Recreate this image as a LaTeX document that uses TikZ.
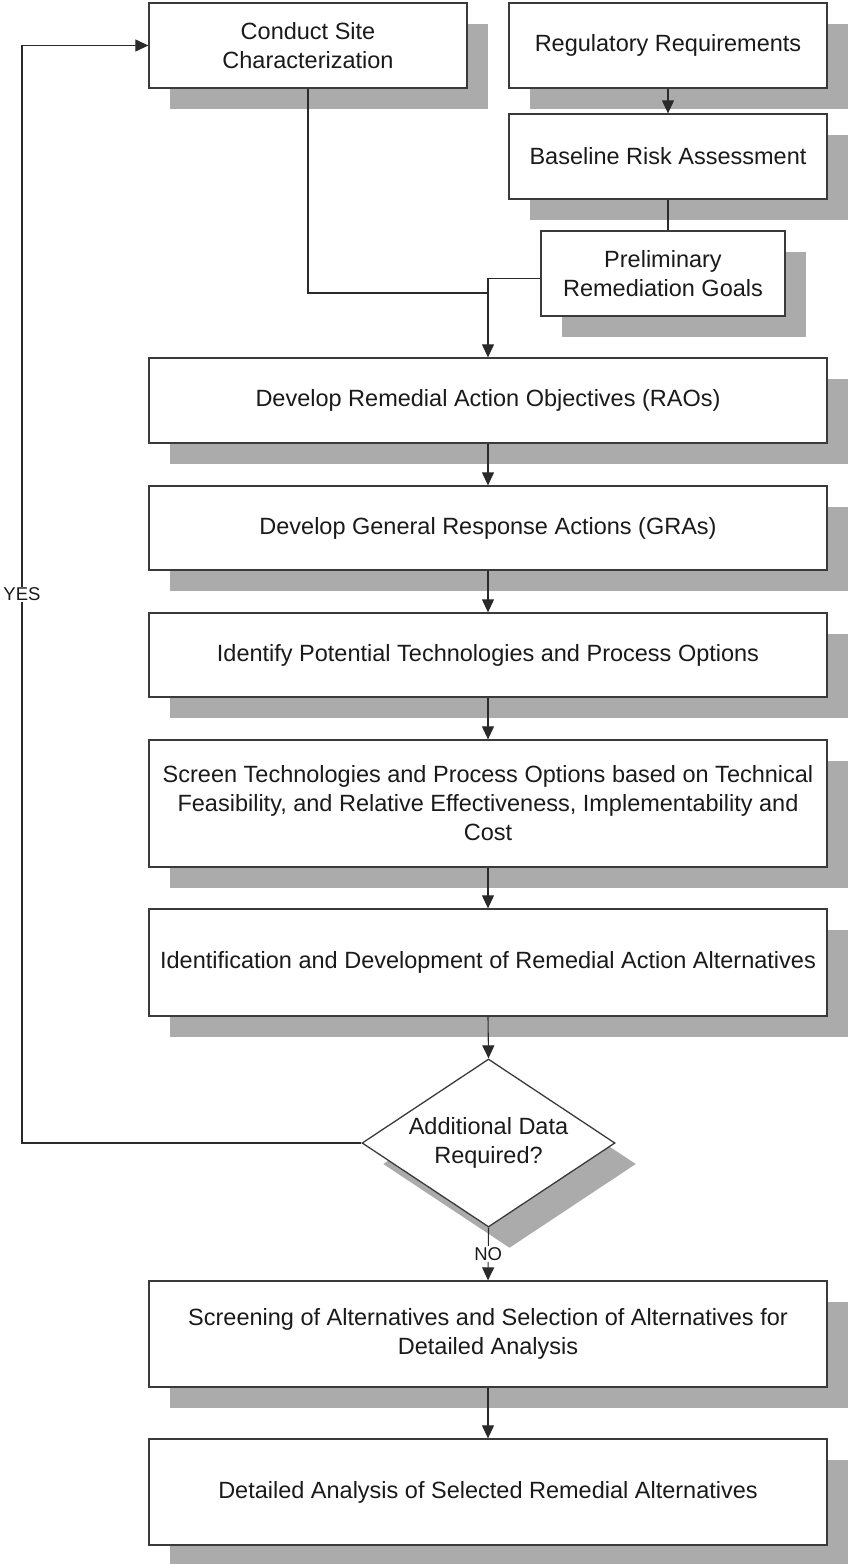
\documentclass[tikz,border=0pt]{standalone}
\usepackage{fontspec}
\setmainfont{Liberation Sans}
\usetikzlibrary{arrows.meta,shapes.geometric,shadows,calc}
\definecolor{boxline}{HTML}{3A3A3A}
\definecolor{linecol}{HTML}{2A2A2A}
\definecolor{shadowgray}{HTML}{ABABAB}
\definecolor{txt}{HTML}{1A1A1A}
\begin{document}
\begin{tikzpicture}[x=1pt,y=-1pt,
  shad/.style={drop shadow={shadow xshift=21pt,shadow yshift=-21pt,fill=shadowgray,opacity=1}},
  box/.style={draw=boxline,line width=1.3pt,fill=white,shad,inner sep=0pt,align=center,
    text=txt,font=\fontsize{23.5}{29}\selectfont},
  smallbox/.style={box,minimum width=318pt,minimum height=85pt},
  widebox/.style={box,minimum width=678pt},
  decision/.style={box,diamond,aspect=1.506,minimum width=253pt,minimum height=168pt},
  conn/.style={draw=linecol,line width=1.1pt},
  arr/.style={conn,-{Triangle[length=13pt,width=12pt]}},
  lbl/.style={fill=white,inner sep=1pt,text=txt,font=\fontsize{18.5}{22}\selectfont}]
\useasboundingbox (0,0) rectangle (848,1564);

\node[smallbox] (CSC) at (308,45.5) {Conduct Site\\Characterization};
\node[smallbox] (REG) at (668,45.5) {Regulatory Requirements};
\node[smallbox] (BRA) at (668,156.5) {Baseline Risk Assessment};
\node[box,minimum width=244pt,minimum height=85pt] (PRG) at (663,273.5) {Preliminary\\Remediation Goals};
\node[widebox,minimum height=85pt] (RAO) at (488,400.5) {Develop Remedial Action Objectives (RAOs)};
\node[widebox,minimum height=84pt] (GRA) at (488,528) {Develop General Response Actions (GRAs)};
\node[widebox,minimum height=84pt] (ITP) at (488,655) {Identify Potential Technologies and Process Options};
\node[widebox,minimum height=127pt] (SCR) at (488,803.5) {Screen Technologies and Process Options based on Technical\\Feasibility, and Relative Effectiveness, Implementability and\\Cost};
\node[widebox,minimum height=107pt] (IDA) at (488,962.5) {Identification and Development of Remedial Action Alternatives};
\node[decision] (DEC) at (488.5,1143) {Additional Data\\Required?};
\node[widebox,minimum height=106pt] (SEL) at (488,1334) {Screening of Alternatives and Selection of Alternatives for\\Detailed Analysis};
\node[widebox,minimum height=106pt] (DET) at (488,1492) {Detailed Analysis of Selected Remedial Alternatives};

\coordinate (J) at (488,293);
\coordinate (YX) at (22,0);

\draw[arr] (REG.south) -- (BRA.north);
\draw[conn] (BRA.south) -- (BRA.south |- PRG.north);
\draw[conn] (CSC.south) |- (J);
\draw[arr] ([yshift=-5pt]PRG.west) -| (RAO.north);
\draw[arr] (RAO.south) -- (GRA.north);
\draw[arr] (GRA.south) -- (ITP.north);
\draw[arr] (ITP.south) -- (SCR.north);
\draw[arr] (SCR.south) -- (IDA.north);
\draw[arr] (IDA.south) -- (DEC.north);
\draw[arr] (DEC.south) -- node[lbl] {NO} (SEL.north);
\draw[arr] (SEL.south) -- (DET.north);
\draw[arr] (DEC.west) -- (DEC.west -| YX) -- node[lbl] {YES} (YX |- CSC.west) -- (CSC.west);
\end{tikzpicture}
\end{document}
